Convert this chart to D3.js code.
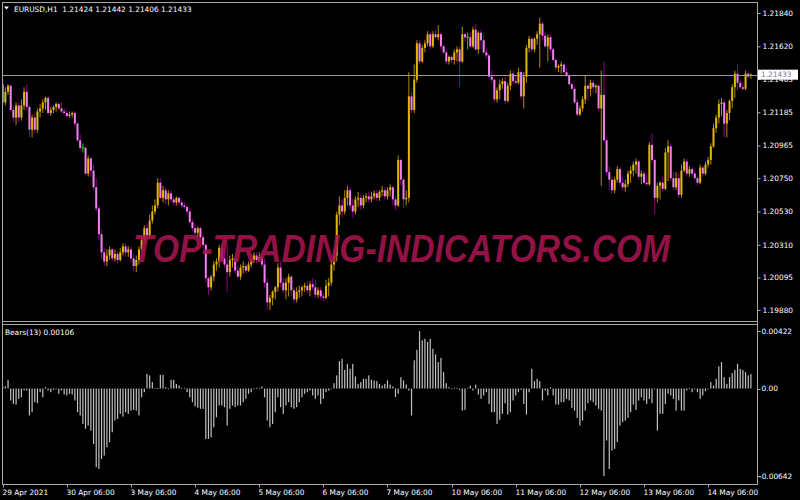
<!DOCTYPE html>
<html><head><meta charset="utf-8">
<script src="https://cdn.jsdelivr.net/npm/d3@7"></script>
<style>
html,body{margin:0;padding:0;background:#000;}
svg{display:block;}
text{font-family:"DejaVu Sans",sans-serif;}
</style></head><body>
<svg id="c" width="800" height="500"></svg>
<script>
const symbolTitle = "EURUSD,H1";
const headerValues = ["1.21424", "1.21442", "1.21406", "1.21433"];
const indicatorTitle = "Bears(13) 0.00106";
const watermark = "TOP-TRADING-INDICATORS.COM";
const lastPrice = 1.21433;
const priceTicks = [1.21840, 1.21620, 1.21405, 1.21185, 1.20965, 1.20750, 1.20530, 1.20310, 1.20095, 1.19880];
const bearsTicks = [0.00422, 0, -0.00642];
const bearsTickLabels = ["0.00422", "0.00", "-0.00642"];
const timeLabels = ["29 Apr 2021", "30 Apr 06:00", "3 May 06:00", "4 May 06:00", "5 May 06:00", "6 May 06:00", "7 May 06:00", "10 May 06:00", "11 May 06:00", "12 May 06:00", "13 May 06:00", "14 May 06:00"];
const timeLabelBars = [0, 24, 48, 72, 96, 120, 144, 168, 192, 216, 240, 264];

const open = [
1.2137,1.2125,1.2132,1.2136,1.2120,1.2115,1.2123,1.2115,1.2123,1.2132,
1.2122,1.2107,1.2115,1.2107,1.2119,1.2121,1.2125,1.2128,1.2118,1.2120,
1.2122,1.2124,1.2121,1.2119,1.2118,1.2116,1.2117,1.2118,1.2111,1.2100,
1.2095,1.2095,1.2078,1.2088,1.2080,1.2069,1.2055,1.2038,1.2026,1.2020,
1.2024,1.2028,1.2022,1.2025,1.2021,1.2026,1.2030,1.2026,1.2028,1.2022,
1.2017,1.2021,1.2028,1.2034,1.2042,1.2037,1.2047,1.2053,1.2057,1.2072,
1.2062,1.2067,1.2061,1.2065,1.2061,1.2059,1.2062,1.2059,1.2057,1.2056,
1.2053,1.2046,1.2042,1.2039,1.2042,1.2036,1.2031,1.2009,1.2003,1.2010,
1.2018,1.2020,1.2029,1.2022,1.2018,1.2013,1.2021,1.2022,1.2014,1.2010,
1.2016,1.2017,1.2014,1.2018,1.2021,1.2024,1.2021,1.2023,1.2018,1.2006,
1.1993,1.1996,1.2000,1.2003,1.2016,1.2006,1.2001,1.2006,1.2010,1.2001,
1.1995,1.2000,1.2001,1.2003,1.2004,1.2001,1.2005,1.2003,1.1998,1.2001,
1.1997,1.1996,1.2004,1.2006,1.2018,1.2024,1.2051,1.2057,1.2053,1.2062,
1.2067,1.2057,1.2053,1.2061,1.2062,1.2057,1.2062,1.2063,1.2061,1.2063,
1.2065,1.2062,1.2066,1.2067,1.2063,1.2067,1.2069,1.2061,1.2057,1.2087,
1.2074,1.2061,1.2062,1.2129,1.2120,1.2140,1.2164,1.2152,1.2161,1.2164,
1.2170,1.2162,1.2170,1.2168,1.2170,1.2162,1.2158,1.2152,1.2155,1.2153,
1.2158,1.2160,1.2152,1.2170,1.2168,1.2168,1.2162,1.2173,1.2160,1.2171,
1.2166,1.2158,1.2156,1.2142,1.2140,1.2127,1.2133,1.2137,1.2139,1.2126,
1.2136,1.2144,1.2139,1.2138,1.2145,1.2129,1.2142,1.2161,1.2167,1.2160,
1.2167,1.2170,1.2177,1.2169,1.2162,1.2168,1.2160,1.2153,1.2148,1.2149,
1.2150,1.2145,1.2143,1.2137,1.2134,1.2125,1.2117,1.2121,1.2127,1.2136,
1.2134,1.2138,1.2135,1.2136,1.2121,1.2130,1.2100,1.2079,1.2074,1.2067,
1.2074,1.2081,1.2072,1.2069,1.2071,1.2078,1.2080,1.2084,1.2086,1.2076,
1.2078,1.2072,1.2071,1.2097,1.2087,1.2062,1.2070,1.2072,1.2068,1.2092,
1.2096,1.2075,1.2069,1.2075,1.2064,1.2080,1.2086,1.2078,1.2081,1.2078,
1.2075,1.2072,1.2082,1.2078,1.2084,1.2087,1.2096,1.2108,1.2115,1.2124,
1.2125,1.2111,1.2118,1.2126,1.2135,1.2144,1.2138,1.2135,1.2134,1.2144,1.21424];

const high = [
1.2140,1.2135,1.2137,1.2137,1.2123,1.2125,1.2125,1.2127,1.2135,1.2137,
1.2123,1.2117,1.2118,1.2121,1.2124,1.2127,1.2129,1.2129,1.2122,1.2123,
1.2125,1.2125,1.2125,1.2121,1.2120,1.2119,1.2119,1.2119,1.2112,1.2104,
1.2098,1.2096,1.2090,1.2089,1.2084,1.2075,1.2057,1.2041,1.2029,1.2028,
1.2030,1.2029,1.2028,1.2027,1.2029,1.2032,1.2032,1.2030,1.2030,1.2025,
1.2024,1.2030,1.2037,1.2044,1.2045,1.2051,1.2057,1.2061,1.2075,1.2075,
1.2070,1.2069,1.2067,1.2067,1.2063,1.2063,1.2063,1.2061,1.2059,1.2057,
1.2055,1.2048,1.2045,1.2043,1.2043,1.2038,1.2032,1.2010,1.2011,1.2020,
1.2022,1.2031,1.2032,1.2028,1.2032,1.2024,1.2025,1.2024,1.2017,1.2018,
1.2020,1.2019,1.2020,1.2022,1.2026,1.2026,1.2026,1.2025,1.2022,1.2009,
1.1998,1.2001,1.2004,1.2019,1.2020,1.2009,1.2009,1.2012,1.2011,1.2003,
1.2003,1.2004,1.2004,1.2006,1.2007,1.2007,1.2009,1.2008,1.2003,1.2003,
1.1999,1.2008,1.2009,1.2021,1.2028,1.2053,1.2063,1.2061,1.2067,1.2070,
1.2069,1.2061,1.2063,1.2066,1.2064,1.2064,1.2065,1.2066,1.2066,1.2067,
1.2067,1.2067,1.2070,1.2069,1.2069,1.2071,1.2070,1.2063,1.2090,1.2088,
1.2075,1.2067,1.2145,1.2132,1.2150,1.2166,1.2166,1.2163,1.2166,1.2172,
1.2171,1.2172,1.2173,1.2176,1.2171,1.2163,1.2160,1.2156,1.2156,1.2160,
1.2162,1.2162,1.2175,1.2171,1.2171,1.2171,1.2175,1.2177,1.2172,1.2173,
1.2170,1.2160,1.2157,1.2146,1.2141,1.2135,1.2140,1.2141,1.2142,1.2138,
1.2146,1.2146,1.2143,1.2148,1.2146,1.2145,1.2163,1.2169,1.2168,1.2168,
1.2172,1.2181,1.2178,1.2171,1.2170,1.2170,1.2161,1.2154,1.2150,1.2152,
1.2151,1.2148,1.2144,1.2138,1.2136,1.2127,1.2123,1.2129,1.2143,1.2137,
1.2140,1.2140,1.2137,1.2137,1.2146,1.2152,1.2102,1.2083,1.2076,1.2076,
1.2083,1.2082,1.2076,1.2074,1.2080,1.2083,1.2086,1.2088,1.2087,1.2080,
1.2080,1.2078,1.2099,1.2105,1.2088,1.2072,1.2073,1.2076,1.2095,1.2100,
1.2098,1.2079,1.2079,1.2078,1.2084,1.2088,1.2088,1.2083,1.2082,1.2080,
1.2076,1.2084,1.2083,1.2086,1.2089,1.2098,1.2111,1.2117,1.2127,1.2128,
1.2127,1.2120,1.2127,1.2137,1.2146,1.2150,1.2140,1.2138,1.2146,1.2145,1.21442];

const low = [
1.2123,1.2123,1.2130,1.2119,1.2112,1.2110,1.2112,1.2113,1.2120,1.2120,
1.2102,1.2102,1.2105,1.2105,1.2115,1.2118,1.2120,1.2117,1.2116,1.2118,
1.2119,1.2120,1.2118,1.2117,1.2115,1.2115,1.2115,1.2109,1.2099,1.2093,
1.2092,1.2077,1.2076,1.2076,1.2067,1.2053,1.2034,1.2022,1.2017,1.2017,
1.2021,1.2020,1.2020,1.2019,1.2020,1.2024,1.2023,1.2023,1.2020,1.2014,
1.2013,1.2018,1.2026,1.2032,1.2034,1.2036,1.2045,1.2051,1.2055,1.2061,
1.2059,1.2058,1.2057,1.2059,1.2057,1.2057,1.2057,1.2055,1.2055,1.2051,
1.2045,1.2040,1.2037,1.2036,1.2034,1.2029,1.2006,1.1998,1.2001,1.2007,
1.2014,1.2016,1.2020,1.2016,1.2000,1.2010,1.2016,1.2012,1.2009,1.2008,
1.2012,1.2012,1.2013,1.2016,1.2019,1.2019,1.2020,1.2016,1.2003,1.1988,
1.1988,1.1991,1.1995,1.2000,1.2003,1.1999,1.1995,1.1997,1.1997,1.1993,
1.1993,1.1996,1.1997,1.2000,1.1999,1.1997,1.2001,1.1996,1.1996,1.1995,
1.1994,1.1995,1.1997,1.2004,1.2014,1.2020,1.2044,1.2049,1.2051,1.2057,
1.2054,1.2049,1.2051,1.2056,1.2054,1.2055,1.2059,1.2059,1.2059,1.2061,
1.2060,1.2060,1.2063,1.2061,1.2061,1.2063,1.2057,1.2054,1.2056,1.2070,
1.2055,1.2057,1.2059,1.2118,1.2118,1.2138,1.2150,1.2151,1.2158,1.2162,
1.2160,1.2161,1.2167,1.2166,1.2160,1.2157,1.2150,1.2150,1.2151,1.2150,
1.2152,1.2135,1.2151,1.2165,1.2160,1.2161,1.2161,1.2159,1.2157,1.2160,
1.2157,1.2154,1.2141,1.2138,1.2125,1.2125,1.2127,1.2134,1.2124,1.2125,
1.2133,1.2137,1.2137,1.2137,1.2127,1.2121,1.2138,1.2158,1.2158,1.2158,
1.2163,1.2148,1.2166,1.2161,1.2152,1.2158,1.2152,1.2146,1.2145,1.2144,
1.2144,1.2142,1.2136,1.2133,1.2124,1.2116,1.2116,1.2119,1.2124,1.2126,
1.2129,1.2131,1.2131,1.2119,1.2070,1.2099,1.2077,1.2067,1.2065,1.2065,
1.2072,1.2070,1.2067,1.2066,1.2069,1.2072,1.2076,1.2078,1.2074,1.2071,
1.2071,1.2070,1.2070,1.2085,1.2051,1.2059,1.2061,1.2066,1.2067,1.2073,
1.2073,1.2067,1.2067,1.2062,1.2062,1.2079,1.2076,1.2076,1.2076,1.2074,
1.2070,1.2071,1.2076,1.2077,1.2082,1.2084,1.2095,1.2105,1.2111,1.2116,
1.2102,1.2102,1.2113,1.2121,1.2128,1.2133,1.2134,1.2133,1.2133,1.2141,1.21406];

const close = [
1.2125,1.2132,1.2136,1.2120,1.2115,1.2123,1.2115,1.2123,1.2132,1.2122,
1.2107,1.2115,1.2107,1.2119,1.2121,1.2125,1.2128,1.2118,1.2120,1.2122,
1.2124,1.2121,1.2119,1.2118,1.2116,1.2117,1.2118,1.2111,1.2100,1.2095,
1.2095,1.2078,1.2088,1.2080,1.2069,1.2055,1.2038,1.2026,1.2020,1.2024,
1.2028,1.2022,1.2025,1.2021,1.2026,1.2030,1.2026,1.2028,1.2022,1.2017,
1.2021,1.2028,1.2034,1.2042,1.2037,1.2047,1.2053,1.2057,1.2072,1.2062,
1.2067,1.2061,1.2065,1.2061,1.2059,1.2062,1.2059,1.2057,1.2056,1.2053,
1.2046,1.2042,1.2039,1.2042,1.2036,1.2031,1.2009,1.2003,1.2010,1.2018,
1.2020,1.2029,1.2022,1.2018,1.2013,1.2021,1.2022,1.2014,1.2010,1.2016,
1.2017,1.2014,1.2018,1.2021,1.2024,1.2021,1.2023,1.2018,1.2006,1.1993,
1.1996,1.2000,1.2003,1.2016,1.2006,1.2001,1.2006,1.2010,1.2001,1.1995,
1.2000,1.2001,1.2003,1.2004,1.2001,1.2005,1.2003,1.1998,1.2001,1.1997,
1.1996,1.2004,1.2006,1.2018,1.2024,1.2051,1.2057,1.2053,1.2062,1.2067,
1.2057,1.2053,1.2061,1.2062,1.2057,1.2062,1.2063,1.2061,1.2063,1.2065,
1.2062,1.2066,1.2067,1.2063,1.2067,1.2069,1.2061,1.2057,1.2087,1.2074,
1.2061,1.2062,1.2129,1.2120,1.2140,1.2164,1.2152,1.2161,1.2164,1.2170,
1.2162,1.2170,1.2168,1.2170,1.2162,1.2158,1.2152,1.2155,1.2153,1.2158,
1.2160,1.2152,1.2170,1.2168,1.2168,1.2162,1.2173,1.2160,1.2171,1.2166,
1.2158,1.2156,1.2142,1.2140,1.2127,1.2133,1.2137,1.2139,1.2126,1.2136,
1.2144,1.2139,1.2138,1.2145,1.2129,1.2142,1.2161,1.2167,1.2160,1.2167,
1.2170,1.2177,1.2169,1.2162,1.2168,1.2160,1.2153,1.2148,1.2149,1.2150,
1.2145,1.2143,1.2137,1.2134,1.2125,1.2117,1.2121,1.2127,1.2136,1.2134,
1.2138,1.2135,1.2136,1.2121,1.2130,1.2100,1.2079,1.2074,1.2067,1.2074,
1.2081,1.2072,1.2069,1.2071,1.2078,1.2080,1.2084,1.2086,1.2076,1.2078,
1.2072,1.2071,1.2097,1.2087,1.2062,1.2070,1.2072,1.2068,1.2092,1.2096,
1.2075,1.2069,1.2075,1.2064,1.2080,1.2086,1.2078,1.2081,1.2078,1.2075,
1.2072,1.2082,1.2078,1.2084,1.2087,1.2096,1.2108,1.2115,1.2124,1.2125,
1.2111,1.2118,1.2126,1.2135,1.2144,1.2138,1.2135,1.2134,1.2144,1.2142,1.21433];

const bears = [
0.00015,0.00015,0.00064,-0.00088,-0.00113,-0.00118,-0.00076,-0.00064,-0.00015,-0.00015,
-0.00198,-0.00174,-0.00100,-0.00108,-0.00027,-0.00064,0.00010,-0.00015,-0.00027,-0.00010,
-0.00005,-0.00039,-0.00015,-0.00044,-0.00051,-0.00039,-0.00044,-0.00088,-0.00174,-0.00198,
-0.00260,-0.00296,-0.00272,-0.00309,-0.00407,-0.00578,-0.00590,-0.00517,-0.00492,-0.00431,
-0.00394,-0.00321,-0.00235,-0.00223,-0.00186,-0.00206,-0.00174,-0.00186,-0.00162,-0.00157,
-0.00162,-0.00198,-0.00064,-0.00027,0.00108,0.00096,0.00047,0.00005,0.00003,0.00100,
0.00100,0.00010,-0.00002,0.00064,0.00064,0.00034,0.00022,0.00005,0.00005,-0.00027,
-0.00064,-0.00100,-0.00132,-0.00142,-0.00149,-0.00149,-0.00370,-0.00370,-0.00358,-0.00284,
-0.00211,-0.00125,-0.00125,-0.00137,-0.00272,-0.00149,-0.00125,-0.00137,-0.00125,-0.00125,
-0.00100,-0.00076,-0.00039,-0.00027,-0.00002,0.00005,0.00005,0.00015,-0.00064,-0.00235,
-0.00284,-0.00260,-0.00174,-0.00064,-0.00137,-0.00186,-0.00125,-0.00100,-0.00137,-0.00149,
-0.00137,-0.00100,-0.00064,-0.00039,-0.00027,-0.00015,-0.00051,-0.00076,-0.00051,-0.00113,
-0.00076,-0.00027,-0.00015,-0.00002,0.00039,0.00096,0.00201,0.00218,0.00137,0.00181,
0.00145,0.00181,0.00088,0.00034,0.00047,0.00071,0.00071,0.00096,0.00064,0.00059,
0.00054,0.00034,0.00022,0.00034,0.00059,0.00029,0.00015,-0.00064,-0.00039,0.00083,
0.00059,0.00029,-0.00015,-0.00198,0.00206,0.00284,0.00422,0.00353,0.00365,0.00341,
0.00365,0.00292,0.00250,0.00194,0.00225,0.00120,0.00039,0.00010,0.00001,0.00005,
0.00005,-0.00010,-0.00162,-0.00157,0.00005,0.00022,-0.00015,0.00029,-0.00044,-0.00076,
-0.00051,-0.00027,-0.00113,-0.00174,-0.00174,-0.00260,-0.00230,-0.00186,-0.00108,-0.00191,
-0.00174,-0.00088,-0.00051,-0.00027,-0.00010,-0.00113,-0.00191,-0.00027,0.00145,0.00054,
0.00071,0.00054,-0.00088,-0.00015,-0.00051,0.00010,-0.00051,-0.00118,-0.00118,-0.00100,
-0.00100,-0.00076,-0.00088,-0.00142,-0.00162,-0.00216,-0.00272,-0.00235,-0.00162,-0.00108,
-0.00088,-0.00100,-0.00125,-0.00149,-0.00162,-0.00642,-0.00382,-0.00590,-0.00456,-0.00443,
-0.00394,-0.00272,-0.00247,-0.00235,-0.00216,-0.00174,-0.00118,-0.00157,-0.00088,-0.00064,
-0.00088,-0.00113,-0.00076,-0.00108,-0.00002,-0.00309,-0.00186,-0.00186,-0.00113,-0.00039,
-0.00051,-0.00076,-0.00162,-0.00088,-0.00162,-0.00162,-0.00015,0.00005,-0.00027,-0.00002,
-0.00027,-0.00076,-0.00051,-0.00020,-0.00002,0.00047,0.00022,0.00071,0.00162,0.00194,
0.00083,0.00034,0.00083,0.00113,0.00137,0.00181,0.00145,0.00137,0.00120,0.00096,0.00106];

// ---------- layout & style ----------
const frame = {left: 2, right: 757, top: 2, mainBottom: 321, subTop: 325, subBottom: 484};
const col = {
  bg: "#000000", frame: "#a8a8a8", text: "#ffffff",
  bullBody: "#e0b800", bullWick: "#b08a00",
  bearBody: "#ee82ee", bearWick: "#8b008b",
  doji: "#00e000", hist: "#c0c0c0", priceLine: "#9a9a9a",
  watermark: "#a8154f"
};
const fontSize = 7.4;

const svg = d3.select("#c");
svg.append("rect").attr("width", 800).attr("height", 500).attr("fill", col.bg);

const n = close.length;
const idx = d3.range(n);
const x = d3.scaleLinear().domain([0, n - 1]).range([2.7, 750.9]);
const y = d3.scaleLinear().domain([1.19880, 1.21840]).range([310, 13]);
const yb = d3.scaleLinear().domain([-0.00642, 0.00422]).range([476, 331]);

const defs = svg.append("defs");
defs.append("clipPath").attr("id", "clipMain").append("rect")
  .attr("x", frame.left).attr("y", frame.top)
  .attr("width", frame.right - frame.left).attr("height", frame.mainBottom - frame.top);
defs.append("clipPath").attr("id", "clipSub").append("rect")
  .attr("x", frame.left).attr("y", frame.subTop)
  .attr("width", frame.right - frame.left).attr("height", frame.subBottom - frame.subTop);

// ---------- candles ----------
const gMain = svg.append("g").attr("clip-path", "url(#clipMain)");
const kind = i => close[i] > open[i] ? "bull" : (close[i] < open[i] ? "bear" : "doji");
const wickColor = i => ({bull: col.bullWick, bear: col.bearWick, doji: col.doji})[kind(i)];
const bodyColor = i => ({bull: col.bullBody, bear: col.bearBody, doji: col.doji})[kind(i)];

gMain.selectAll("line.wick").data(idx).join("line")
  .attr("class", "wick")
  .attr("x1", i => x(i)).attr("x2", i => x(i))
  .attr("y1", i => y(high[i])).attr("y2", i => y(low[i]))
  .attr("stroke", wickColor).attr("stroke-width", 1);

gMain.selectAll("rect.body").data(idx.filter(i => kind(i) !== "doji")).join("rect")
  .attr("class", "body")
  .attr("x", i => x(i) - 1).attr("width", 2)
  .attr("y", i => y(Math.max(open[i], close[i])))
  .attr("height", i => Math.max(1, Math.abs(y(open[i]) - y(close[i]))))
  .attr("fill", bodyColor);

gMain.selectAll("line.dojibar").data(idx.filter(i => kind(i) === "doji")).join("line")
  .attr("class", "dojibar")
  .attr("x1", i => x(i) - 1.5).attr("x2", i => x(i) + 1.5)
  .attr("y1", i => y(close[i])).attr("y2", i => y(close[i]))
  .attr("stroke", col.doji).attr("stroke-width", 1);

// price line
gMain.append("line")
  .attr("x1", frame.left).attr("x2", frame.right)
  .attr("y1", Math.round(y(lastPrice)) + 0.5).attr("y2", Math.round(y(lastPrice)) + 0.5)
  .attr("stroke", col.priceLine).attr("stroke-width", 1);

// watermark
svg.append("text")
  .attr("x", 133).attr("y", 262)
  .attr("textLength", 537).attr("lengthAdjust", "spacingAndGlyphs")
  .style("font-family", "'Liberation Sans', Arial, sans-serif")
  .style("font-weight", "bold").style("font-style", "italic")
  .style("font-size", "38px")
  .attr("fill", col.watermark).attr("fill-opacity", 0.88)
  .text(watermark);

// ---------- indicator histogram ----------
const gSub = svg.append("g").attr("clip-path", "url(#clipSub)");
gSub.selectAll("rect.hist").data(idx).join("rect")
  .attr("class", "hist")
  .attr("x", i => x(i) - 0.6).attr("width", 1.2)
  .attr("y", i => Math.min(yb(0), yb(bears[i])))
  .attr("height", i => Math.max(0.8, Math.abs(yb(bears[i]) - yb(0))))
  .attr("fill", col.hist);

// ---------- frames ----------
const fr = svg.append("g").attr("stroke", col.frame).attr("stroke-width", 1).attr("shape-rendering", "crispEdges");
fr.append("line").attr("x1", frame.left).attr("x2", frame.right).attr("y1", frame.top + 0.5).attr("y2", frame.top + 0.5);
fr.append("line").attr("x1", frame.left + 0.5).attr("x2", frame.left + 0.5).attr("y1", frame.top).attr("y2", frame.subBottom);
fr.append("line").attr("x1", frame.right + 0.5).attr("x2", frame.right + 0.5).attr("y1", frame.top).attr("y2", frame.subBottom + 1);
fr.append("line").attr("x1", frame.left).attr("x2", frame.right).attr("y1", frame.mainBottom + 0.5).attr("y2", frame.mainBottom + 0.5);
fr.append("line").attr("x1", frame.left).attr("x2", frame.right).attr("y1", frame.subTop - 0.5).attr("y2", frame.subTop - 0.5);
fr.append("line").attr("x1", frame.left).attr("x2", frame.right + 1).attr("y1", frame.subBottom + 0.5).attr("y2", frame.subBottom + 0.5);

// ---------- right price axis ----------
const axR = d3.axisRight(y).tickValues(priceTicks).tickFormat(d3.format(".5f")).tickSize(3).tickPadding(2);
const gR = svg.append("g").attr("transform", `translate(${frame.right + 0.5},0)`).call(axR);
gR.select(".domain").remove();
gR.selectAll(".tick line").attr("stroke", col.frame);
gR.selectAll(".tick text").attr("fill", col.text).style("font-size", fontSize + "px").style("font-family", "'DejaVu Sans'");

// last price label
const lp = svg.append("g").attr("transform", `translate(${frame.right},${y(lastPrice)})`);
lp.append("rect").attr("x", 1).attr("y", -5).attr("width", 40).attr("height", 10).attr("fill", "#ffffff");
lp.append("text").attr("x", 4).attr("y", 0).attr("dy", "0.35em")
  .attr("fill", "#7878a0").style("font-size", fontSize + "px").text(d3.format(".5f")(lastPrice));

// ---------- indicator axis ----------
const gI = svg.append("g").attr("transform", `translate(${frame.right + 0.5},0)`);
bearsTicks.forEach((v, k) => {
  const yy = Math.min(Math.max(yb(v), frame.subTop + 5), frame.subBottom - 5);
  gI.append("line").attr("x1", 0).attr("x2", 3).attr("y1", Math.round(yb(v)) + 0.5).attr("y2", Math.round(yb(v)) + 0.5).attr("stroke", col.frame);
  gI.append("text").attr("x", v < 0 ? 1.5 : 4).attr("y", yy).attr("dy", "0.35em")
    .attr("fill", col.text).style("font-size", fontSize + "px").text(bearsTickLabels[k]);
});

// ---------- time axis ----------
const gB = svg.append("g").attr("transform", `translate(0,${frame.subBottom + 0.5})`);
timeLabelBars.forEach((b, k) => {
  const xx = Math.round(x(b)) + 0.5;
  gB.append("line").attr("x1", xx).attr("x2", xx).attr("y1", 0).attr("y2", 3).attr("stroke", col.frame);
  gB.append("text").attr("x", xx - 1).attr("y", 8).attr("dy", "0.35em")
    .attr("fill", col.text).style("font-size", fontSize + "px").text(timeLabels[k]);
});

// ---------- headers ----------
svg.append("path").attr("d", "M4,6.5 L9,6.5 L6.5,9.5 Z").attr("fill", col.text);
svg.append("text").attr("x", 14).attr("y", 9).attr("dy", "0.35em")
  .attr("fill", col.text).style("font-size", fontSize + "px").attr("xml:space", "preserve")
  .text(symbolTitle + "  " + headerValues.join(" "));
svg.append("text").attr("x", 5).attr("y", 332).attr("dy", "0.35em")
  .attr("fill", col.text).style("font-size", fontSize + "px")
  .text(indicatorTitle);
</script>
</body></html>
